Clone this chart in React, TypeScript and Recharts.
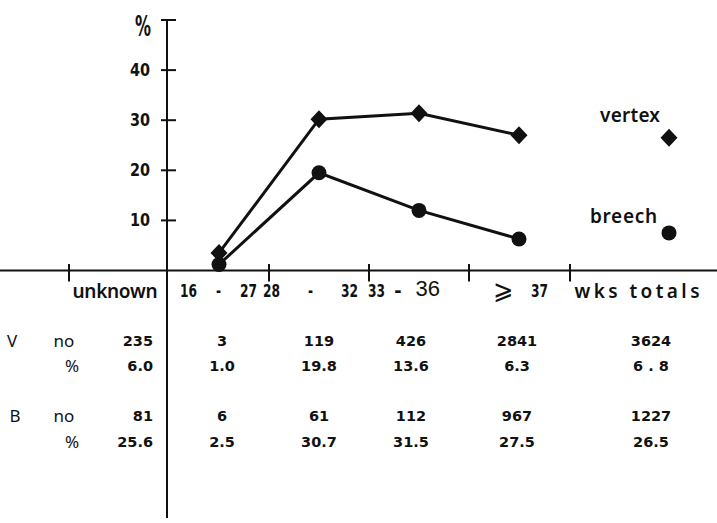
import { ComposedChart, ReferenceLine, Scatter, XAxis, YAxis } from "recharts";

// column headers under the x axis
const columns = ["unknown", "16 - 27", "28 - 32", "33 - 36", "⩾ 37", "wks totals"];

// table rows
const vertexNo = ["235", "3", "119", "426", "2841", "3624"];
const vertexPct = ["6.0", "1.0", "19.8", "13.6", "6.3", "6 . 8"];
const breechNo = ["81", "6", "61", "112", "967", "1227"];
const breechPct = ["25.6", "2.5", "30.7", "31.5", "27.5", "26.5"];

// plotted percentages (16-27, 28-32, 33-36, >=37) and totals
const diamondValues = [3.5, 30.2, 31.4, 27.0];
const diamondTotal = 26.5;
const circleValues = [1.2, 19.5, 12.0, 6.3];
const circleTotal = 7.5;

const yTicks = [10, 20, 30, 40];

// layout (data units of the chart scales)
const X_DOMAIN = [-0.69, 6.48];
const Y_DOMAIN = [-49.6, 50.2];
const AXIS_X = 0.98;
const headerX = [0.46, 1.495, 2.415, 3.35, 4.515, 5.68];
const headerWidth = [85, 77, 95, 72, 55, 125];
const cellX = [0.84, 1.53, 2.5, 3.42, 4.48, 5.82];
const rowY = [-14, -19, -29, -34.2];

const BOLD = '"DejaVu Sans", "Noto Sans", sans-serif';
const PLAIN = '"Noto Sans", "DejaVu Sans", sans-serif';
const HELV = '"Liberation Sans", Arimo, sans-serif';
const INK = "#111";

type TextOpts = {
  size: number;
  scale?: number;
  anchor?: string;
  weight?: number;
  family?: string;
  len?: number;
};

// text squeezed horizontally to mimic the condensed type of the original
function narrowText(key: string, x: number, y: number, text: string, o: TextOpts) {
  const s = o.scale ?? 1;
  return (
    <text
      key={key}
      transform={`translate(${x} ${y}) scale(${s} 1)`}
      textAnchor={o.anchor ?? "middle"}
      dominantBaseline="central"
      fontFamily={o.family ?? BOLD}
      fontWeight={o.weight ?? 700}
      fontSize={o.size}
      fill={INK}
      textLength={o.len ? o.len / s : undefined}
      lengthAdjust={o.len ? "spacing" : undefined}
    >
      {text}
    </text>
  );
}

const textShape = (o: TextOpts) => (props: any) => {
  const { cx, cy, payload } = props;
  return narrowText("t", cx, cy, payload.text, { ...o, anchor: payload.anchor ?? o.anchor, len: payload.len ?? o.len });
};

const headerShape = (props: any) => {
  const { cx, cy, payload } = props;
  const { text, len, index } = payload;
  if (index === 0 || index === columns.length - 1) {
    return narrowText("w", cx, cy, text, { size: 19, weight: 600, family: PLAIN, len });
  }
  const tokens = text.split(" ");
  const left = cx - len / 2;
  const right = cx + len / 2;
  const num = { size: 17, scale: 0.72 };
  if (tokens.length === 2) {
    return (
      <g>
        {narrowText("a", left, cy - 1, tokens[0], { size: 27, weight: 400, anchor: "start", family: BOLD, scale: 0.9 })}
        {narrowText("b", right, cy, tokens[1], { ...num, anchor: "end" })}
      </g>
    );
  }
  const big = index === 3;
  const tail = big ? { size: 22, weight: 400, family: HELV } : num;
  return (
    <g>
      {narrowText("a", left, cy, tokens[0], { ...num, anchor: "start" })}
      {narrowText("b", big ? cx - 6 : cx, cy - (big ? 1 : 0), tokens[1], big ? { ...tail, weight: 700 } : tail)}
      {narrowText("c", right, cy - (big ? 2 : 0), tokens[2], { ...tail, anchor: "end" })}
    </g>
  );
};

const diamond = (props: any) => {
  const { cx, cy } = props;
  return <polygon points={`${cx},${cy - 9} ${cx + 8.5},${cy} ${cx},${cy + 9} ${cx - 8.5},${cy}`} fill={INK} />;
};

const dot = (props: any) => <circle cx={props.cx} cy={props.cy} r={7.5} fill={INK} />;

const diamondData = diamondValues.map((y, i) => ({ x: i + 1.5, y }));
const circleData = circleValues.map((y, i) => ({ x: i + 1.5, y }));

const headerData = columns.map((text, i) => ({ x: headerX[i], y: -4, text, len: headerWidth[i], index: i }));

const tableData = [vertexNo, vertexPct, breechNo, breechPct].flatMap((row, r) =>
  row.map((text, i) => ({ x: cellX[i], y: rowY[r], text, anchor: i === 0 ? "end" : "middle" }))
);

const rowLabelData = [
  { x: -0.57, y: rowY[0], text: "V" },
  { x: -0.05, y: rowY[0], text: "no" },
  { x: 0.03, y: rowY[1], text: "%" },
  { x: -0.54, y: rowY[2], text: "B" },
  { x: -0.05, y: rowY[2], text: "no" },
  { x: 0.03, y: rowY[3], text: "%" },
];

const legendData = [
  { x: 5.61, y: 31, text: "vertex", len: 60 },
  { x: 5.545, y: 10.8, text: "breech", len: 67 },
];

const tickLabelData = yTicks.map((t) => ({ x: 0.81, y: t, text: String(t), anchor: "end" }));

const axisTicksX = [0, AXIS_X, 2.0, 3.0, 4.0, 5.01];

export default function App() {
  return (
    <div style={{ position: "absolute", left: 0, top: 0, width: 717, height: 523, background: "#fff" }}>
      <ComposedChart width={717} height={523} margin={{ top: 19, right: 0, bottom: 4, left: 0 }}>
        <XAxis type="number" dataKey="x" domain={X_DOMAIN} hide />
        <YAxis type="number" dataKey="y" domain={Y_DOMAIN} hide />

        {/* axes */}
        <ReferenceLine y={0} stroke={INK} strokeWidth={2} />
        <ReferenceLine
          segment={[
            { x: AXIS_X, y: Y_DOMAIN[0] + 0.2 },
            { x: AXIS_X, y: 50 },
          ]}
          stroke={INK}
          strokeWidth={2}
        />
        {[...yTicks, 50].map((t) => (
          <ReferenceLine
            key={`yt${t}`}
            segment={[
              { x: AXIS_X - 0.06, y: t },
              { x: AXIS_X + 0.09, y: t },
            ]}
            stroke={INK}
            strokeWidth={2}
          />
        ))}
        {axisTicksX.map((t) => (
          <ReferenceLine
            key={`xt${t}`}
            segment={[
              { x: t, y: 1.3 },
              { x: t, y: -2.2 },
            ]}
            stroke={INK}
            strokeWidth={2}
          />
        ))}

        {/* series */}
        <Scatter data={diamondData} line={{ stroke: INK, strokeWidth: 3 }} shape={diamond} isAnimationActive={false} />
        <Scatter data={circleData} line={{ stroke: INK, strokeWidth: 3 }} shape={dot} isAnimationActive={false} />
        <Scatter data={[{ x: 6, y: diamondTotal }]} shape={diamond} isAnimationActive={false} />
        <Scatter data={[{ x: 6, y: circleTotal }]} shape={dot} isAnimationActive={false} />

        {/* texts */}
        <Scatter data={tickLabelData} shape={textShape({ size: 18, scale: 0.8 })} isAnimationActive={false} />
        <Scatter
          data={[{ x: 0.74, y: 48.8, text: "%" }]}
          shape={textShape({ size: 29, scale: 0.55 })}
          isAnimationActive={false}
        />
        <Scatter data={headerData} shape={headerShape} isAnimationActive={false} />
        <Scatter data={tableData} shape={textShape({ size: 14.5, weight: 700 })} isAnimationActive={false} />
        <Scatter
          data={rowLabelData}
          shape={textShape({ size: 17, weight: 400, family: PLAIN })}
          isAnimationActive={false}
        />
        <Scatter
          data={legendData}
          shape={textShape({ size: 19, weight: 600, family: PLAIN })}
          isAnimationActive={false}
        />
      </ComposedChart>
    </div>
  );
}
